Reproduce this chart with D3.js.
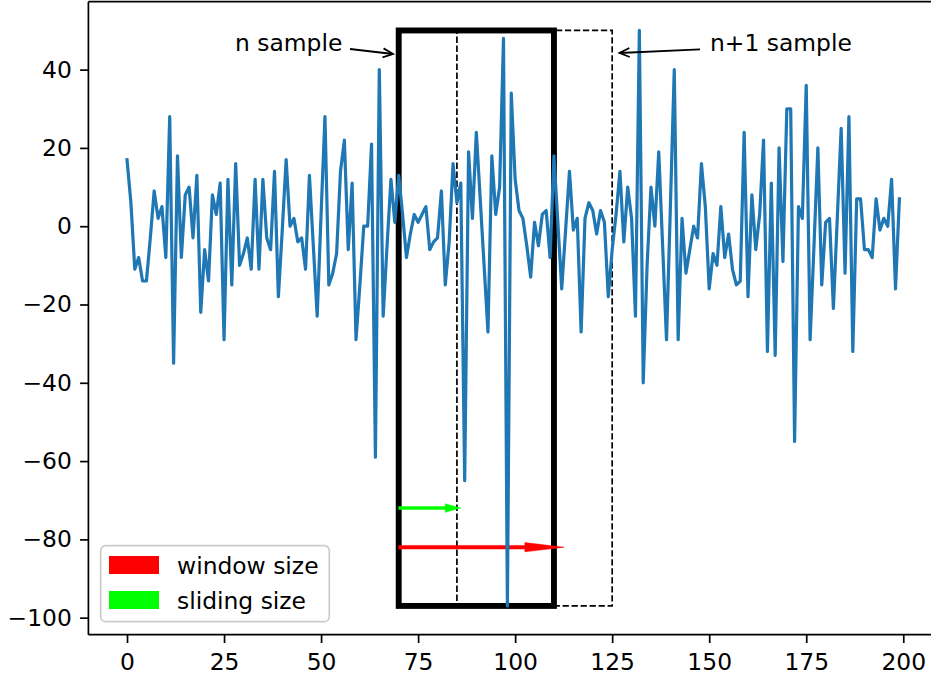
<!DOCTYPE html>
<html><head><meta charset="utf-8">
<script src="https://cdn.jsdelivr.net/npm/d3@7"></script>
<style>body{margin:0;background:#fff}svg{display:block}text{font-family:"DejaVu Sans",sans-serif}</style>
</head><body><svg id="c" width="931" height="679"></svg>
<script>
const values = [17,6,-11,-8,-14,-14,-3,9,2,5,-8,28,-35,18,-8,8,10,-3,13,-22,
-6,-14,8,3,11,-29,12,-15,16,-10,-7,-3,-11,12,-11,12,-3,-6,14,-18,
-1,17,0,2,-4,-3,-11,13,-5,-23,3,28,-15,-12,-7,14,22,-6,11,-29,
-15,0,0,21,-59,40,-23,-5,12,1,13,3,-8,-2,3,1,3,5,-6,-4,
-3,9,-15,-4,16,6,11,-65,19,2,24,7,-10,-27,18,3,10,48,-97,34,
12,4,2,-5,-13,1,-5,3,4,-8,18,1,-16,-1,14,-1,2,-27,2,6,
4,-2,4,1,-18,-6,3,14,-4,10,2,-23,50,-40,-10,10,0,19,-5,-29,
5,40,-29,2,-12,-6,0,-3,16,5,-16,-7,-10,5,-8,-2,-11,-15,-14,24,
-18,8,-6,3,22,-32,11,-33,20,-9,30,30,-55,5,2,36,-29,-5,20,-15,
1,2,-21,2,25,-12,28,-32,7,7,-6,-6,-8,7,-1,2,0,12,-16,7];
const xTicks = [0,25,50,75,100,125,150,175,200];
const yTicks = [-100,-80,-60,-40,-20,0,20,40];
const windowBox = [70,110];
const nextBox = [85,125];
const boxY = [-97,50];
const legendLabels = ["window size","sliding size"];
const legendColors = ["#ff0000","#00ff00"];
const annLabels = ["n sample","n+1 sample"];

const svg = d3.select("#c");
const x = d3.scaleLinear().domain([-9.95,208.95]).range([88.4,938]);
const y = d3.scaleLinear().domain([-104.35,57.35]).range([634.7,1.7]);
const fs = 23.4;

// dashed (n+1) box
svg.append("rect").attr("x",x(nextBox[0])).attr("y",y(boxY[1]))
  .attr("width",x(nextBox[1])-x(nextBox[0])).attr("height",y(boxY[0])-y(boxY[1]))
  .attr("fill","none").attr("stroke","#000").attr("stroke-width",1.7).attr("stroke-dasharray","6.3,2.7");
// solid (n) box
svg.append("rect").attr("x",x(windowBox[0])).attr("y",y(boxY[1]))
  .attr("width",x(windowBox[1])-x(windowBox[0])).attr("height",y(boxY[0])-y(boxY[1]))
  .attr("fill","none").attr("stroke","#000").attr("stroke-width",5.9);

// arrows (filled, matplotlib-style)
function fatArrow(x0,x1,xh,yv,bw,hw,col){
  const yc=y(yv);
  const p=[[x(x0),yc-bw],[x(xh),yc-bw],[x(xh),yc-hw],[x(x1),yc],[x(xh),yc+hw],[x(xh),yc+bw],[x(x0),yc+bw]];
  svg.append("path").attr("d","M"+p.map(d=>d.join(",")).join("L")+"Z").attr("fill",col).attr("stroke",col).attr("stroke-width",0.5);
}
fatArrow(70,86,82,-72,1.5,4.3,"#00ff00");
fatArrow(70,112.6,102.5,-82,1.8,4.6,"#ff0000");

// data line
svg.append("path").datum(values)
  .attr("d",d3.line().x((d,i)=>x(i)).y(d=>y(d)))
  .attr("fill","none").attr("stroke","#1f77b4").attr("stroke-width",3.2).attr("stroke-linejoin","round").attr("stroke-linecap","square");

// spines
const sp = svg.append("g").attr("stroke","#000").attr("stroke-width",1.7).attr("fill","none");
sp.append("line").attr("x1",88.4).attr("x2",88.4).attr("y1",1.7).attr("y2",634.7);
sp.append("line").attr("x1",88.4).attr("x2",938).attr("y1",634.7).attr("y2",634.7);
sp.append("line").attr("x1",88.4).attr("x2",938).attr("y1",1.7).attr("y2",1.7);

// axes
const gx = svg.append("g").attr("transform","translate(0,634.7)")
  .call(d3.axisBottom(x).tickValues(xTicks).tickSize(8.3).tickPadding(10.4).tickFormat(d3.format("d")));
const gy = svg.append("g").attr("transform","translate(88.4,0)")
  .call(d3.axisLeft(y).tickValues(yTicks).tickSize(8.3).tickPadding(8.3).tickFormat(d3.format("d")));
[gx,gy].forEach(g=>{
  g.select(".domain").remove();
  g.selectAll(".tick line").attr("stroke","#000").attr("stroke-width",1.7);
  g.selectAll(".tick text").attr("fill","#000").style("font-size",fs+"px").style("font-family","DejaVu Sans");
});

// legend
const lg = svg.append("g");
lg.append("rect").attr("x",100.7).attr("y",545.7).attr("width",228.6).attr("height",76).attr("rx",5)
  .attr("fill","#fff").attr("fill-opacity",0.8).attr("stroke","#cccccc").attr("stroke-width",1.7);
legendLabels.forEach((t,i)=>{
  const yy = 556 + i*35;
  lg.append("rect").attr("x",109).attr("y",yy).attr("width",50).attr("height",18).attr("fill",legendColors[i]);
  lg.append("text").attr("x",177).attr("y",yy+18).style("font-size",fs+"px").text(t);
});

// annotations
svg.append("text").attr("x",235).attr("y",51).style("font-size",fs+"px").text(annLabels[0]);
svg.append("text").attr("x",710).attr("y",51).style("font-size",fs+"px").text(annLabels[1]);
function openArrow(x0,y0,x1,y1){
  svg.append("line").attr("x1",x0).attr("y1",y0).attr("x2",x1).attr("y2",y1).attr("stroke","#000").attr("stroke-width",1.8);
  const a=Math.atan2(y1-y0,x1-x0), L=11, w=0.42;
  const p1=[x1-L*Math.cos(a-w),y1-L*Math.sin(a-w)], p2=[x1-L*Math.cos(a+w),y1-L*Math.sin(a+w)];
  svg.append("path").attr("d",`M${p1}L${x1},${y1}L${p2}`).attr("fill","none").attr("stroke","#000").attr("stroke-width",1.8);
}
openArrow(350,49,393,54);
openArrow(700,49.3,619.5,53);
</script></body></html>
